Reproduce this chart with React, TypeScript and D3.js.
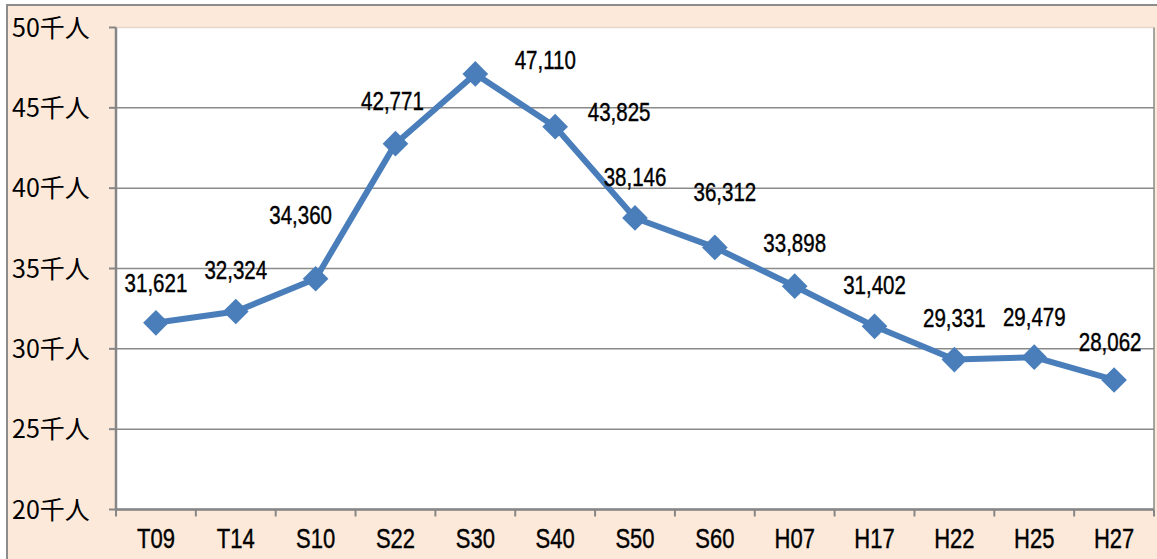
import React from "react";
import * as d3 from "d3";

const categories = ["T09", "T14", "S10", "S22", "S30", "S40", "S50", "S60", "H07", "H17", "H22", "H25", "H27"];
const population = [31621, 32324, 34360, 42771, 47110, 43825, 38146, 36312, 33898, 31402, 29331, 29479, 28062];
const yTicks = [20, 25, 30, 35, 40, 45, 50];
// label offsets (dx, dy) relative to the point, in px
const labelDx = [0, 0, -15, -3, 70, 64, 0, 10, 0, 0, 0, 0, -4];
const labelDy = [-40, -41, -64, -43, -14, -15, -41, -55, -43, -41, -42, -40, -38];

const W = 1157, H = 559;
const plot = { left: 116, right: 1154, top: 27.5, bottom: 509.5 };

export default function App() {
  const x = d3.scaleBand<string>().domain(categories).range([plot.left, plot.right]);
  const y = d3.scaleLinear().domain([20, 50]).range([plot.bottom, plot.top]);
  const cx = (c: string) => (x(c) as number) + x.bandwidth() / 2;
  const line = d3.line<number>()
    .x((_, i) => cx(categories[i]))
    .y((v) => y(v / 1000));
  const diamond = d3.symbol().type(d3.symbolDiamond2).size(2 * 14.5 * 14.5)();
  const fmt = d3.format(",");
  const bounds = categories.map((c) => x(c) as number).concat([plot.right]);
  const labelFont = "'Liberation Sans', Arial, sans-serif";

  return (
    <svg width={W} height={H} style={{ position: "absolute", left: 0, top: 0 }}>
      <rect x={0} y={0} width={W} height={H} fill="#ffffff" />
      <rect x={7} y={5} width={W + 10} height={H + 10} fill="#FDE9D9" stroke="#8c8c8c" strokeWidth={2} />
      <rect x={plot.left} y={plot.top} width={plot.right - plot.left} height={plot.bottom - plot.top} fill="#ffffff" />
      {yTicks.map((t) => (
        <line key={"g" + t} x1={plot.left} x2={plot.right} y1={y(t)} y2={y(t)}
          stroke={t === 50 ? "#e6d6cc" : "#8a8a8a"} strokeWidth={1.5} />
      ))}
      <line x1={plot.right} x2={plot.right} y1={plot.top} y2={plot.bottom} stroke="#8a8a8a" strokeWidth={1.5} />
      {/* axes */}
      <line x1={plot.left} x2={plot.left} y1={plot.top} y2={plot.bottom} stroke="#868686" strokeWidth={2.5} />
      <line x1={plot.left} x2={plot.right} y1={plot.bottom} y2={plot.bottom} stroke="#868686" strokeWidth={2.5} />
      {yTicks.map((t) => (
        <line key={"yt" + t} x1={plot.left - 7} x2={plot.left} y1={y(t)} y2={y(t)} stroke="#868686" strokeWidth={2} />
      ))}
      {bounds.map((b, i) => (
        <line key={"xt" + i} x1={b} x2={b} y1={plot.bottom} y2={plot.bottom + 7} stroke="#868686" strokeWidth={2} />
      ))}
      {yTicks.map((t) => (
        <text key={"yl" + t} x={12} y={y(t)} dy="0.36em" fontSize={25}
          fontFamily="'Noto Sans CJK JP', sans-serif" fill="#000">{t}千人</text>
      ))}
      {categories.map((c) => (
        <text key={"xl" + c} transform={`translate(${cx(c)},${plot.bottom + 38.5}) scale(0.8,1)`}
          textAnchor="middle" fontSize={27.5} fontFamily={labelFont} fill="#000"
          stroke="#000" strokeWidth={0.4}>{c}</text>
      ))}
      <path d={line(population) as string} fill="none" stroke="#4A7EBB" strokeWidth={6} strokeLinejoin="round" />
      {population.map((v, i) => (
        <path key={"m" + i} d={diamond as string} transform={`translate(${cx(categories[i])},${y(v / 1000)})`} fill="#4A7EBB" />
      ))}
      {population.map((v, i) => (
        <text key={"dl" + i}
          transform={`translate(${cx(categories[i]) + labelDx[i]},${y(v / 1000) + labelDy[i] + 9}) scale(0.82,1)`}
          textAnchor="middle" fontSize={25} fontFamily={labelFont} fill="#000"
          stroke="#000" strokeWidth={0.4}>{fmt(v)}</text>
      ))}
    </svg>
  );
}
